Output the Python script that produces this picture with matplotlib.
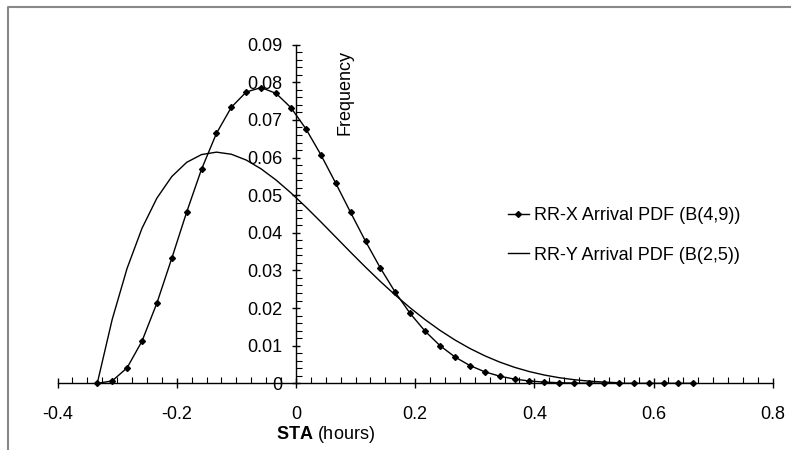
import matplotlib
matplotlib.use("Agg")
import matplotlib.pyplot as plt
from matplotlib.lines import Line2D
from matplotlib.ticker import MultipleLocator, FuncFormatter

plt.rcParams['font.family'] = ['Liberation Sans', 'DejaVu Sans']
plt.rcParams['axes.unicode_minus'] = False
plt.rcParams['mathtext.fontset'] = 'custom'
plt.rcParams['mathtext.bf'] = 'Liberation Sans:bold'
plt.rcParams['mathtext.rm'] = 'Liberation Sans'

# STA (hours) sample points
sta_x = [-0.3333, -0.3083, -0.2833, -0.2583, -0.2333, -0.2083, -0.1833, -0.1583,
         -0.1333, -0.1083, -0.0833, -0.0583, -0.0333, -0.0083, 0.0167, 0.0417,
         0.0667, 0.0917, 0.1167, 0.1417, 0.1667, 0.1917, 0.2167, 0.2417,
         0.2667, 0.2917, 0.3167, 0.3417, 0.3667, 0.3917, 0.4167, 0.4417,
         0.4667, 0.4917, 0.5167, 0.5417, 0.5667, 0.5917, 0.6167, 0.6417, 0.6667]

rrx_freq = [0.0, 0.00063, 0.00411, 0.01119, 0.02131, 0.03322, 0.04552, 0.05693,
            0.06644, 0.07339, 0.07743, 0.07860, 0.07705, 0.07325, 0.06763, 0.06078,
            0.05321, 0.04541, 0.03777, 0.03062, 0.02417, 0.01856, 0.01385, 0.01001,
            0.00701, 0.00473, 0.00306, 0.00190, 0.00111, 0.00062, 0.00032, 0.00015,
            0.00006, 0.00002, 0.00001, 0.0, 0.0, 0.0, 0.0, 0.0, 0.0]

rry_freq = [0.0, 0.01695, 0.03054, 0.04118, 0.04921, 0.05495, 0.05873, 0.06080,
            0.06144, 0.06088, 0.05933, 0.05698, 0.05402, 0.05060, 0.04686, 0.04292,
            0.03888, 0.03484, 0.03088, 0.02706, 0.02344, 0.02005, 0.01692, 0.01407,
            0.01152, 0.00927, 0.00732, 0.00565, 0.00425, 0.00311, 0.00220, 0.00149,
            0.00096, 0.00058, 0.00032, 0.00016]

x_ticks = [-0.4, -0.2, 0.0, 0.2, 0.4, 0.6, 0.8]
y_ticks = [0.0, 0.01, 0.02, 0.03, 0.04, 0.05, 0.06, 0.07, 0.08, 0.09]

FS = 13

fig = plt.figure(figsize=(7.91, 4.50), dpi=100)
ax = fig.add_axes([0.0727, 0.1482, 0.9043, 0.7525])

ax.plot(sta_x, rrx_freq, color='black', lw=1.0, marker='D', markersize=3.0,
        clip_on=False, label='RR-X Arrival PDF (B(4,9))', zorder=3)
ax.plot(sta_x[:len(rry_freq)], rry_freq, color='black', lw=1.0, clip_on=False,
        label='RR-Y Arrival PDF (B(2,5))', zorder=3)

ax.set_xlim(-0.4, 0.8)
ax.set_ylim(0, 0.09)
ax.spines['left'].set_position(('data', 0))
ax.spines['bottom'].set_position(('data', 0))
ax.spines['top'].set_visible(False)
ax.spines['right'].set_visible(False)
for s in ('left', 'bottom'):
    ax.spines[s].set_linewidth(1.0)

ax.set_xticks(x_ticks)
ax.set_yticks(y_ticks)
ax.xaxis.set_minor_locator(MultipleLocator(0.025))
ax.yaxis.set_minor_locator(MultipleLocator(0.002))
ax.xaxis.set_major_formatter(FuncFormatter(lambda v, p: '0' if abs(v) < 1e-9 else f'{v:.1f}'))
ax.yaxis.set_major_formatter(FuncFormatter(lambda v, p: '0' if abs(v) < 1e-9 else f'{v:.2f}'))

ax.tick_params(axis='x', which='major', direction='inout', length=7, width=1,
               pad=13, labelsize=FS)
ax.tick_params(axis='x', which='minor', direction='in', length=4, width=0.8)
ax.tick_params(axis='y', which='major', direction='inout', length=6, width=1,
               pad=6.5, labelsize=FS)
ax.tick_params(axis='y', which='minor', direction='in', length=4, width=0.8)

ax.text(0.049, -0.0137, r'$\bf{STA}$ (hours)', ha='center', va='center',
        fontsize=FS, transform=ax.transData, clip_on=False)
ax.text(0.083, 0.0885, 'Frequency', rotation=90, ha='center', va='top',
        fontsize=FS, transform=ax.transData)

leg = ax.legend(loc='upper left', bbox_to_anchor=(508/791, 1 - 207/450),
                bbox_transform=fig.transFigure, frameon=False, fontsize=FS,
                handlelength=1.15, handletextpad=0.3, labelspacing=1.25,
                borderpad=0, borderaxespad=0)

fig.add_artist(Line2D([8.3/791, 8.3/791, 1.0], [0.0, 1 - 6.7/450, 1 - 6.7/450],
                      transform=fig.transFigure, color='#888888', lw=1.5))

fig.savefig('out.png', dpi=100)
